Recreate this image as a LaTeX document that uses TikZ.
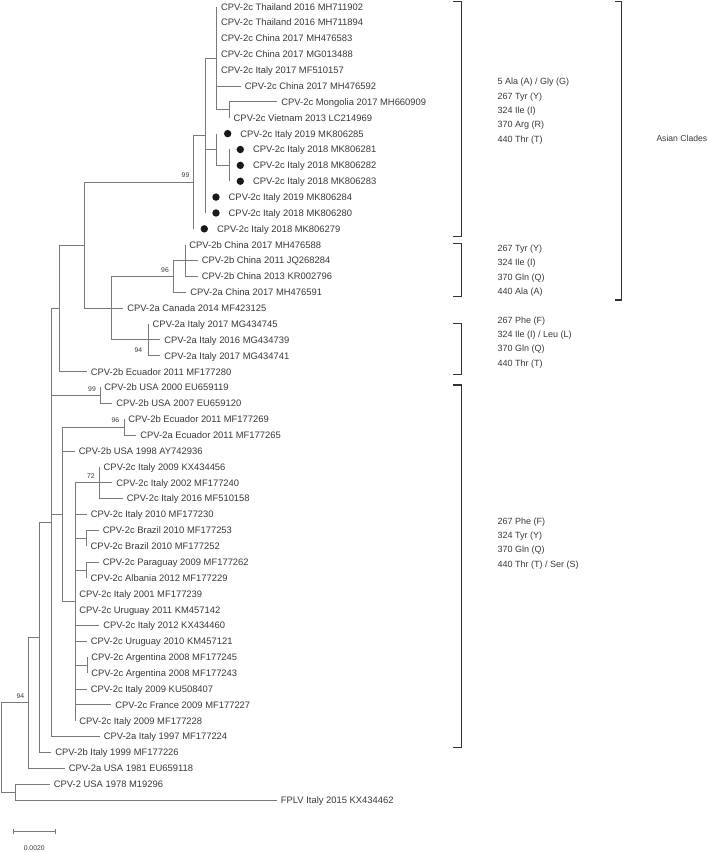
\documentclass[tikz,border=0pt]{standalone}
\usepackage{fontspec}
\setmainfont{Liberation Sans}
\usetikzlibrary{calc}
\definecolor{treegray}{HTML}{7A7A7A}
\definecolor{txtgray}{HTML}{3A3A3A}
\definecolor{brgray}{HTML}{333333}
\newcommand\tleaf[4]{%
  \coordinate (#1) at (#3,{6.7+15.866*(#2-1)});
  \node[lab] (#1-t) at ([xshift=4.2pt,yshift=-3.4pt]#1) {#4};}
\newcommand\mleaf[4]{%
  \coordinate (#1) at (#3,{6.7+15.866*(#2-1)});
  \node[dot] (#1-d) at ([xshift=11pt]#1) {};
  \node[lab] (#1-t) at ([xshift=23.5pt,yshift=-3.4pt]#1) {#4};}
\newcommand\inode[4]{%
  \coordinate (#1-m) at ($(#3)!.5!(#4)$);
  \coordinate (#1) at (#2,0 |- #1-m);}
\tikzset{
  lab/.style={anchor=base west, inner sep=0pt, text=txtgray, font=\fontsize{9.4}{11}\selectfont},
  dot/.style={circle, fill=black!90, inner sep=0pt, minimum size=7.4pt},
  br/.style={draw=treegray, line width=0.8pt},
  bs/.style={text=txtgray, font=\fontsize{6.8}{8}\selectfont, inner sep=0pt},
  clade/.style={draw=brgray, line width=1.3pt},
  ann/.style={anchor=north west, align=left, inner sep=0pt, text=txtgray, font=\fontsize{9}{14.3}\selectfont}
}
\begin{document}
\begin{tikzpicture}[x=1pt,y=-1pt]
\fill[white] (0,0) rectangle (709,852);
\useasboundingbox (0,0) rectangle (709,852);
% leaves
\tleaf{l1}{1}{216.7}{CPV-2c Thailand 2016 MH711902}
\tleaf{l2}{2}{216.7}{CPV-2c Thailand 2016 MH711894}
\tleaf{l3}{3}{216.7}{CPV-2c China 2017 MH476583}
\tleaf{l4}{4}{216.7}{CPV-2c China 2017 MG013488}
\tleaf{l5}{5}{216.7}{CPV-2c Italy 2017 MF510157}
\tleaf{l6}{6}{240.5}{CPV-2c China 2017 MH476592}
\tleaf{l7}{7}{277}{CPV-2c Mongolia 2017 MH660909}
\tleaf{l8}{8}{229.3}{CPV-2c Vietnam 2013 LC214969}
\mleaf{l9}{9}{216.7}{CPV-2c Italy 2019 MK806285}
\mleaf{l10}{10}{229.3}{CPV-2c Italy 2018 MK806281}
\mleaf{l11}{11}{229.3}{CPV-2c Italy 2018 MK806282}
\mleaf{l12}{12}{229.3}{CPV-2c Italy 2018 MK806283}
\mleaf{l13}{13}{205}{CPV-2c Italy 2019 MK806284}
\mleaf{l14}{14}{205}{CPV-2c Italy 2018 MK806280}
\mleaf{l15}{15}{193.3}{CPV-2c Italy 2018 MK806279}
\tleaf{l16}{16}{185}{CPV-2b China 2017 MH476588}
\tleaf{l17}{17}{197.5}{CPV-2b China 2011 JQ268284}
\tleaf{l18}{18}{197.5}{CPV-2b China 2013 KR002796}
\tleaf{l19}{19}{186}{CPV-2a China 2017 MH476591}
\tleaf{l20}{20}{123}{CPV-2a Canada 2014 MF423125}
\tleaf{l21}{21}{148.3}{CPV-2a Italy 2017 MG434745}
\tleaf{l22}{22}{160}{CPV-2a Italy 2016 MG434739}
\tleaf{l23}{23}{160}{CPV-2a Italy 2017 MG434741}
\tleaf{l24}{24}{86.5}{CPV-2b Ecuador 2011 MF177280}
\tleaf{l25}{25}{100}{CPV-2b USA 2000 EU659119}
\tleaf{l26}{26}{112}{CPV-2b USA 2007 EU659120}
\tleaf{l27}{27}{124}{CPV-2b Ecuador 2011 MF177269}
\tleaf{l28}{28}{136}{CPV-2a Ecuador 2011 MF177265}
\tleaf{l29}{29}{74.5}{CPV-2b USA 1998 AY742936}
\tleaf{l30}{30}{99.3}{CPV-2c Italy 2009 KX434456}
\tleaf{l31}{31}{112}{CPV-2c Italy 2002 MF177240}
\tleaf{l32}{32}{122.5}{CPV-2c Italy 2016 MF510158}
\tleaf{l33}{33}{86.5}{CPV-2c Italy 2010 MF177230}
\tleaf{l34}{34}{98.5}{CPV-2c Brazil 2010 MF177253}
\tleaf{l35}{35}{86.3}{CPV-2c Brazil 2010 MF177252}
\tleaf{l36}{36}{98.5}{CPV-2c Paraguay 2009 MF177262}
\tleaf{l37}{37}{86.3}{CPV-2c Albania 2012 MF177229}
\tleaf{l38}{38}{75}{CPV-2c Italy 2001 MF177239}
\tleaf{l39}{39}{75}{CPV-2c Uruguay 2011 KM457142}
\tleaf{l40}{40}{99}{CPV-2c Italy 2012 KX434460}
\tleaf{l41}{41}{86.5}{CPV-2c Uruguay 2010 KM457121}
\tleaf{l42}{42}{87}{CPV-2c Argentina 2008 MF177245}
\tleaf{l43}{43}{87}{CPV-2c Argentina 2008 MF177243}
\tleaf{l44}{44}{86.5}{CPV-2c Italy 2009 KU508407}
\tleaf{l45}{45}{111}{CPV-2c France 2009 MF177227}
\tleaf{l46}{46}{75}{CPV-2c Italy 2009 MF177228}
\tleaf{l47}{47}{99.5}{CPV-2a Italy 1997 MF177224}
\tleaf{l48}{48}{51}{CPV-2b Italy 1999 MF177226}
\tleaf{l49}{49}{64.5}{CPV-2a USA 1981 EU659118}
\tleaf{l50}{50}{49.5}{CPV-2 USA 1978 M19296}
\tleaf{l51}{51}{276.5}{FPLV Italy 2015 KX434462}
% internal nodes
\inode{nB}{229.3}{l7}{l8}
\inode{nA}{216.7}{l1}{nB}
\inode{nD}{229.3}{l10}{l12}
\inode{nC}{216.7}{l9}{nD}
\inode{nE}{205}{nA}{l14}
\inode{nF}{193.3}{nE}{l15}
\inode{nG}{185}{l16}{l18}
\inode{nH}{173.3}{nG}{l19}
\inode{nJ}{148.3}{l21}{l23}
\inode{nI}{111.7}{nH}{nJ}
\inode{nK}{84}{nF}{nI}
\inode{nL}{59}{nK}{l24}
\inode{nM}{100}{l25}{l26}
\inode{nN}{124}{l27}{l28}
\inode{nP}{99.3}{l30}{l32}
\inode{nR}{86.3}{l34}{l35}
\inode{nS}{86.3}{l36}{l37}
\inode{nT}{87}{l42}{l43}
\inode{nQ}{75}{nP}{l46}
\inode{nO}{62.7}{nN}{nQ}
\inode{nU}{51.3}{nL}{l47}
\inode{nV}{39.3}{nU}{l48}
\inode{nW}{28.3}{nV}{l49}
\inode{nX}{15}{l50}{l51}
\inode{nZ}{1.7}{nW}{nX}
% branches
\foreach \c in {l1,l2,l3,l4,l5,l6,nB} \draw[br] (nA) |- (\c);
\foreach \c in {l7,l8} \draw[br] (nB) |- (\c);
\foreach \c in {l10,l11,l12} \draw[br] (nD) |- (\c);
\foreach \c in {l9,nD} \draw[br] (nC) |- (\c);
\foreach \c in {nA,nC,l13,l14} \draw[br] (nE) |- (\c);
\foreach \c in {nE,l15} \draw[br] (nF) |- (\c);
\foreach \c in {l16,l17,l18} \draw[br] (nG) |- (\c);
\foreach \c in {nG,l19} \draw[br] (nH) |- (\c);
\foreach \c in {l21,l22,l23} \draw[br] (nJ) |- (\c);
\foreach \c in {nH,l20,nJ} \draw[br] (nI) |- (\c);
\foreach \c in {nF,nI} \draw[br] (nK) |- (\c);
\foreach \c in {nK,l24} \draw[br] (nL) |- (\c);
\foreach \c in {l25,l26} \draw[br] (nM) |- (\c);
\foreach \c in {l27,l28} \draw[br] (nN) |- (\c);
\foreach \c in {l30,l31,l32} \draw[br] (nP) |- (\c);
\foreach \c in {l34,l35} \draw[br] (nR) |- (\c);
\foreach \c in {l36,l37} \draw[br] (nS) |- (\c);
\foreach \c in {l42,l43} \draw[br] (nT) |- (\c);
\foreach \c in {nP,l33,nR,nS,l38,l39,l40,l41,nT,l44,l45,l46} \draw[br] (nQ) |- (\c);
\foreach \c in {nN,l29,nQ} \draw[br] (nO) |- (\c);
\foreach \c in {nL,nM,nO,l47} \draw[br] (nU) |- (\c);
\foreach \c in {nU,l48} \draw[br] (nV) |- (\c);
\foreach \c in {nV,l49} \draw[br] (nW) |- (\c);
\foreach \c in {l50,l51} \draw[br] (nX) |- (\c);
\foreach \c in {nW,nX} \draw[br] (nZ) |- (\c);
% bootstrap values
\node[bs] (b1) at (185.5,175) {99};
\node[bs] (b2) at (165,270) {96};
\node[bs] (b3) at (138.3,350) {94};
\node[bs] (b4) at (92,389.3) {99};
\node[bs] (b5) at (115.5,420) {96};
\node[bs] (b6) at (91,476) {72};
\node[bs] (b7) at (20.3,696) {94};
% clade brackets
\draw[clade] (453.3,1.7) -- (461.7,1.7) -- (461.7,236.7) -- (453.3,236.7);
\draw[clade] (453.3,243.3) -- (461.7,243.3) -- (461.7,296.7) -- (453.3,296.7);
\draw[clade] (453.3,323.3) -- (461.7,323.3) -- (461.7,374.3) -- (453.3,374.3);
\draw[clade] (453.3,385) -- (461.7,385) -- (461.7,747.7) -- (453.3,747.7);
\draw[clade] (615,1.7) -- (621.7,1.7) -- (621.7,300) -- (615,300);
% annotations
\node[ann] (a1) at (497.3,78.1) {5 Ala (A) / Gly (G)\\267 Tyr (Y)\\324 Ile (I)\\370 Arg (R)\\440 Thr (T)};
\node[ann] (a2) at (497.3,244.7) {267 Tyr (Y)\\324 Ile (I)\\370 Gln (Q)\\440 Ala (A)};
\node[ann] (a3) at (497.3,316.4) {267 Phe (F)\\324 Ile (I) / Leu (L)\\370 Gln (Q)\\440 Thr (T)};
\node[ann] (a4) at (497.3,517.4) {267 Phe (F)\\324 Tyr (Y)\\370 Gln (Q)\\440 Thr (T) / Ser (S)};
\node[lab, font=\fontsize{8.6}{11}\selectfont] (asian) at (656.3,141.4) {Asian Clades};
% scale bar
\coordinate (s1) at (13.3,831.7);
\coordinate (s2) at (55,831.7);
\draw[br] (s1) -- (s2);
\draw[br] ([yshift=2.5pt]s1) -- ([yshift=-2.5pt]s1);
\draw[br] ([yshift=2.5pt]s2) -- ([yshift=-2.5pt]s2);
\node[bs] (sc) at (34.2,847.7) {0.0020};
\end{tikzpicture}
\end{document}
